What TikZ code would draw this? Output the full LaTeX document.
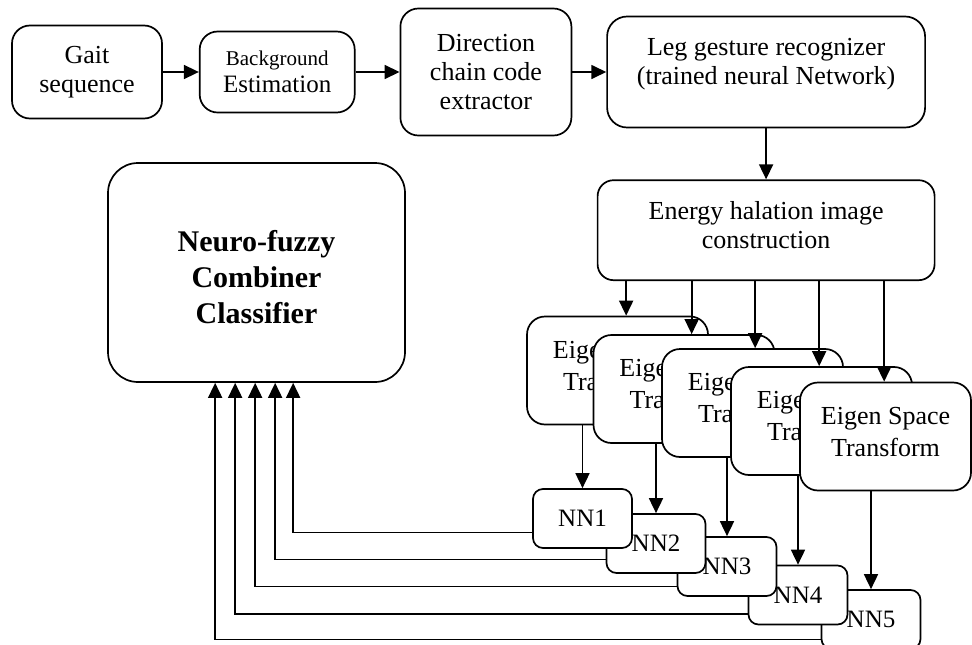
\documentclass[tikz,border=0pt]{standalone}
\usepackage{fontspec}
\setmainfont{Liberation Serif}
\usetikzlibrary{arrows.meta,positioning}

\begin{document}
\begin{tikzpicture}[x=1pt,y=-1pt]
    \tikzstyle{box}=[rectangle,draw,fill=white,rounded corners=18pt,%
    line width=1.7pt,align=center,inner sep=0pt,%
    font=\fontsize{26}{29}\selectfont] %
    \tikzstyle{eigen}=[box,minimum width=181pt,minimum height=108pt,%
    font=\fontsize{26}{32}\selectfont] %
    \tikzstyle{nnet}=[box,rounded corners=10pt,minimum width=99pt,%
    minimum height=59pt,font=\fontsize{25}{29}\selectfont] %
    \tikzstyle{arr}=[-{Triangle[length=15pt,width=14pt]},line width=1.7pt] %

    \useasboundingbox (0,0) rectangle (972,645);

    \node[box,minimum width=150pt,minimum height=93pt] (GAIT) at (87,72) {Gait\\sequence};
    \node[box,minimum width=155pt,minimum height=81pt,font=\fontsize{25}{27}\selectfont]%
        (BACK) [right=36pt of GAIT] {{\fontsize{21}{25}\selectfont Background}\\Estimation};
    \node[box,minimum width=171pt,minimum height=127pt] (DIRC) [right=44pt of BACK]%
        {Direction\\chain code\\extractor};
    \node[box,minimum width=318pt,minimum height=111pt,rounded corners=20pt] (LEG)%
        [right=34pt of DIRC] {Leg gesture recognizer\\(trained neural Network)\\[-8pt]\mbox{}};
    \node[box,minimum width=337pt,minimum height=100pt,rounded corners=16pt] (EHI)%
        [below=51pt of LEG] {Energy halation image\\construction\\[-19pt]\mbox{}};

    \node[box,minimum width=297pt,minimum height=219pt,rounded corners=30pt,%
        font=\fontsize{30}{36}\selectfont\bfseries] (NFC) at (256.5,272.5)%
        {\mbox{}\\[-6pt]Neuro-fuzzy\\Combiner\\Classifier};

    \node[eigen] (EST1) at (617.5,370.5) {Eigen Space\\Transform\\[-22pt]\mbox{}};
    \node[eigen] (EST2) at (684,389) {Eigen Space\\Transform\\[-22pt]\mbox{}};
    \node[eigen] (EST3) at (752.5,403) {Eigen Space\\Transform\\[-22pt]\mbox{}};
    \node[eigen] (EST4) at (821.5,421) {Eigen Space\\Transform\\[-22pt]\mbox{}};
    \node[eigen,minimum width=171pt] (EST5) at (885.5,436.5)%
        {Eigen Space\\Transform\\[-22pt]\mbox{}};

    \node[nnet] (NN5) at (871,619.5) {NN5};
    \node[nnet] (NN4) at (798,595) {NN4};
    \node[nnet] (NN3) at (727,566.5) {NN3};
    \node[nnet] (NN2) at (656,543.5) {NN2};
    \node[nnet] (NN1) at (582.5,518.5) {NN1};

    \draw[arr] (GAIT) -- (BACK);
    \draw[arr] (BACK) -- (DIRC);
    \draw[arr] (DIRC) -- (LEG);
    \draw[arr] (LEG) -- (EHI);

    \foreach \i/\dx in {1/100,2/99,3/94,4/89,5/85}
        \draw[arr] ([xshift=\dx pt]EST\i.north west |- EHI.south) --%
            ([xshift=\dx pt]EST\i.north west);

    \foreach \i in {1,...,5}
        \draw[arr] (EST\i.south -| NN\i.north) -- (NN\i.north);

    \foreach \i/\dx/\dy in {1/186/14,2/168/16,3/148/20,4/128/19,5/108/20}
        \draw[arr] ([yshift=-\dy pt]NN\i.west) -| ([xshift=\dx pt]NFC.south west);
\end{tikzpicture}
\end{document}
